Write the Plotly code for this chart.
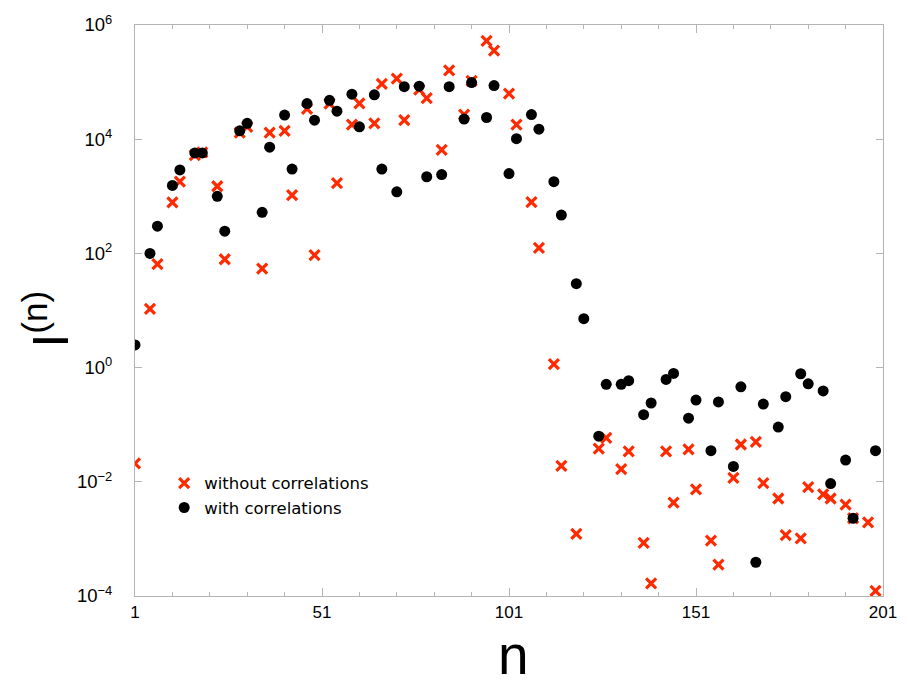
import plotly.graph_objects as go

# Harmonic index n (1 and every n = 6k ± 1 up to 199)
n_values = [1, 5, 7, 11, 13, 17, 19, 23, 25, 29, 31, 35, 37, 41, 43, 47, 49,
            53, 55, 59, 61, 65, 67, 71, 73, 77, 79, 83, 85, 89, 91, 95, 97,
            101, 103, 107, 109, 113, 115, 119, 121, 125, 127, 131, 133, 137, 139,
            143, 145, 149, 151, 155, 157, 161, 163, 167, 169, 173, 175, 179, 181,
            185, 187, 191, 193, 197, 199]

# I^(n) computed without correlations
without_corr = [0.021, 10.7, 65, 780, 1800, 5250, 5900, 1500, 79, 1.3e4, 1.65e4,
                54, 1.3e4, 1.4e4, 1050, 3.4e4, 93, 4.2e4, 1700, 1.8e4, 4.25e4,
                1.9e4, 9.3e4, 1.15e5, 2.15e4, 7.4e4, 5.25e4, 6500, 1.6e5, 2.7e4,
                1.05e5, 5.25e5, 3.55e5, 6.3e4, 1.8e4, 790, 125, 1.15, 0.019,
                1.23e-3, None, 0.038, 0.059, 0.0166, 0.034, 8.5e-4, 1.66e-4,
                0.034, 4.3e-3, 0.037, 7.4e-3, 9.3e-4, 3.55e-4, 0.0117, 0.045,
                0.050, 9.5e-3, 5.1e-3, 1.17e-3, 1.02e-3, 8.1e-3, 6.0e-3, 5.1e-3,
                4.0e-3, 2.3e-3, 1.95e-3, 1.23e-4]

# I^(n) computed with correlations
with_corr = [2.5, 100, 300, 1550, 2900, 5750, 5750, 1000, 245, 1.4e4, 1.9e4,
             525, 7250, 2.65e4, 3000, 4.2e4, 2.15e4, 4.8e4, 3.1e4, 6.15e4,
             1.65e4, 6.0e4, 3000, 1200, 8.3e4, 8.5e4, 2200, 2400, 8.3e4, 2.25e4,
             9.8e4, 2.4e4, 8.7e4, 2500, 1.02e4, 2.7e4, 1.5e4, 1800, 470, 29.5,
             7.2, 0.063, 0.51, 0.51, 0.59, 0.15, 0.24, 0.62, 0.79, 0.13, 0.27,
             0.035, 0.25, 0.0186, 0.46, 3.9e-4, 0.23, 0.091, 0.31, 0.78, 0.52,
             0.39, 0.0093, 0.024, 0.0023, None, 0.035]

x_tickvals = [1, 51, 101, 151, 201]
y_tickvals = [1e-4, 1e-2, 1, 1e2, 1e4, 1e6]
y_ticktext = ["10<sup>\u22124</sup>", "10<sup>\u22122</sup>", "10<sup>0</sup>",
              "10<sup>2</sup>", "10<sup>4</sup>", "10<sup>6</sup>"]

FONT = "Liberation Sans, Arial, Helvetica, sans-serif"
LEGEND_FONT = "DejaVu Sans, Liberation Sans, sans-serif"
AXIS_GRAY = "#b4b4b4"

fig = go.Figure()
fig.add_trace(go.Scatter(
    x=n_values, y=without_corr, mode="markers", name="without correlations",
    marker=dict(symbol="x-thin", size=10, color="#ff2a00",
                line=dict(width=3.2, color="#ff2a00")),
))
fig.add_trace(go.Scatter(
    x=n_values, y=with_corr, mode="markers", name="with correlations",
    marker=dict(symbol="circle", size=11, color="black", line=dict(width=0)),
))

fig.update_layout(
    width=909, height=683,
    margin=dict(l=135, r=16, t=17, b=87),
    paper_bgcolor="white", plot_bgcolor="white",
    font=dict(family=FONT, color="black"),
    showlegend=True,
    legend=dict(x=0.039, y=0.228, xanchor="left", yanchor="top",
                bgcolor="rgba(0,0,0,0)", borderwidth=0,
                font=dict(family=LEGEND_FONT, size=16.5), itemwidth=30,
                tracegroupgap=0),
)

fig.update_xaxes(
    range=[1, 201], tickmode="array", tickvals=x_tickvals,
    ticks="inside", ticklen=8, tickwidth=1, tickcolor=AXIS_GRAY,
    minor=dict(tick0=1, dtick=10, ticks="inside", ticklen=4,
               tickcolor=AXIS_GRAY, showgrid=False),
    showline=True, linecolor=AXIS_GRAY, linewidth=1, mirror="ticks",
    showgrid=False, zeroline=False,
    tickfont=dict(family=FONT, size=17), ticklabelstandoff=1,
)
fig.update_yaxes(
    type="log", range=[-4, 6], tickmode="array",
    tickvals=y_tickvals, ticktext=y_ticktext,
    ticks="inside", ticklen=7, tickwidth=1, tickcolor=AXIS_GRAY,
    showline=True, linecolor=AXIS_GRAY, linewidth=1, mirror="ticks",
    showgrid=False, zeroline=False,
    tickfont=dict(family=FONT, size=18.5), ticklabelstandoff=18,
)

# axis titles
fig.add_annotation(text="n", xref="paper", yref="paper", x=0.506, y=-0.103,
                   xanchor="center", yanchor="middle", showarrow=False,
                   font=dict(family=FONT, size=55))
fig.add_annotation(text="I<sup>(n)</sup>", xref="paper", yref="paper",
                   x=-0.117, y=0.485, xanchor="center", yanchor="middle",
                   textangle=-90, showarrow=False,
                   font=dict(family=FONT, size=50))

fig.write_html("out.html")
